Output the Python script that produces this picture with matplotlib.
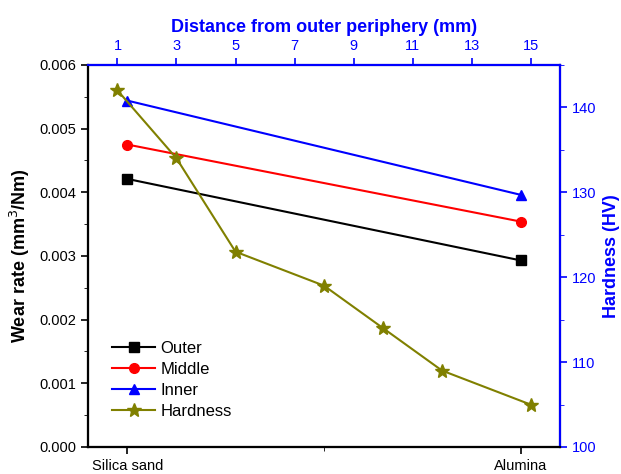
import matplotlib
matplotlib.use("Agg")
import matplotlib.pyplot as plt
from matplotlib.ticker import MultipleLocator, FixedLocator, FormatStrFormatter

plt.rcParams['font.family'] = ['Liberation Sans', 'DejaVu Sans']

# wear rate for each abrasive medium
media = ['Silica sand', 'Alumina']
outer = [0.00421, 0.00293]
middle = [0.00475, 0.00354]
inner = [0.00544, 0.00396]

# hardness profile across the section
distance = [1, 3, 5, 8, 10, 12, 15]
hardness = [142, 134, 123, 119, 114, 109, 105]

blue = '#0000FF'
olive = '#808000'

fig = plt.figure(figsize=(6.21, 4.74), dpi=100)
ax = fig.add_axes([0.1417, 0.057, 0.7601, 0.806])
ax2 = ax.twinx()
ax3 = ax2.twiny()

xpos = [1, 2]
l1, = ax.plot(xpos, outer, color='black', marker='s', ms=7, lw=1.5, label='Outer')
l2, = ax.plot(xpos, middle, color='red', marker='o', ms=7, lw=1.5, label='Middle')
l3, = ax.plot(xpos, inner, color=blue, marker='^', ms=7, lw=1.5, label='Inner')
l4, = ax3.plot(distance, hardness, color=olive, marker='*', ms=10, lw=1.5, label='Hardness')

# bottom / left axes
ax.set_xlim(0.9, 2.1)
ax.set_ylim(0, 0.006)
ax.xaxis.set_major_locator(FixedLocator(xpos))
ax.set_xticklabels(media, fontsize=10.5)
ax.xaxis.set_minor_locator(FixedLocator([1.5]))
ax.yaxis.set_major_locator(MultipleLocator(0.001))
ax.yaxis.set_minor_locator(MultipleLocator(0.0005))
ax.yaxis.set_major_formatter(FormatStrFormatter('%.3f'))
ax.tick_params(axis='y', labelsize=10.5, length=5, width=1.2)
ax.tick_params(axis='x', length=5, width=1.2)
ax.tick_params(which='minor', length=3)
ax.set_ylabel('Wear rate (mm$^3$/Nm)', fontsize=13, fontweight='bold')
ax.yaxis.set_label_coords(-0.119, 0.5)

# right axis: hardness
ax2.set_ylim(100, 145)
ax2.yaxis.set_major_locator(MultipleLocator(10))
ax2.yaxis.set_minor_locator(MultipleLocator(5))
ax2.tick_params(axis='y', colors=blue, labelsize=10.5, length=5, width=1.2)
ax2.tick_params(axis='y', which='minor', length=3, color=blue)
ax2.set_ylabel('Hardness (HV)', fontsize=13, fontweight='bold', color=blue)
ax2.yaxis.set_label_coords(1.091, 0.5)

# top axis: distance
ax3.set_xlim(0, 16)
ax3.xaxis.set_major_locator(MultipleLocator(2, offset=1))
ax3.xaxis.set_minor_locator(MultipleLocator(1))
ax3.tick_params(axis='x', colors=blue, labelsize=10.5, length=5, width=1.2)
ax3.tick_params(axis='x', which='minor', length=0)
ax3.set_xlabel('Distance from outer periphery (mm)', fontsize=13,
               fontweight='bold', color=blue)
ax3.xaxis.set_label_coords(0.5, 1.086)

for a in (ax, ax2, ax3):
    for s in a.spines.values():
        s.set_linewidth(1.5)
ax2.spines['right'].set_color(blue)
ax3.spines['top'].set_color(blue)
ax3.spines['right'].set_color(blue)
ax2.spines['top'].set_color(blue)
ax3.spines['left'].set_color('black')
ax3.spines['bottom'].set_color('black')

ax3.legend(handles=[l1, l2, l3, l4], loc='lower left', bbox_to_anchor=(0.019, 0.035),
           frameon=False, fontsize=12, handlelength=2.6, labelspacing=0.36,
           handletextpad=0.3)

fig.savefig('out.png', dpi=100)
